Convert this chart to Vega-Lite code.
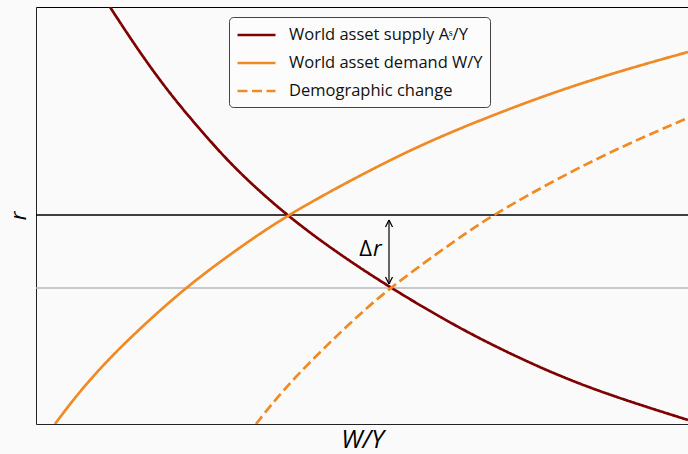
{
  "$schema": "https://vega.github.io/schema/vega-lite/v6.json",
  "width": 652,
  "height": 417,
  "autosize": {"type": "none"},
  "padding": {"left": 36, "top": 7, "right": 0, "bottom": 30},
  "background": "#fafafa",
  "config": {"view": {"stroke": null}, "font": "Open Sans"},
  "datasets": {
    "curves": [
      {"series": "World asset supply Aˢ/Y", "x": 74, "y": 417},
      {"series": "World asset supply Aˢ/Y", "x": 100, "y": 377},
      {"series": "World asset supply Aˢ/Y", "x": 133, "y": 331},
      {"series": "World asset supply Aˢ/Y", "x": 167, "y": 291},
      {"series": "World asset supply Aˢ/Y", "x": 200, "y": 254},
      {"series": "World asset supply Aˢ/Y", "x": 250, "y": 209},
      {"series": "World asset supply Aˢ/Y", "x": 300, "y": 172},
      {"series": "World asset supply Aˢ/Y", "x": 353, "y": 137},
      {"series": "World asset supply Aˢ/Y", "x": 424, "y": 95},
      {"series": "World asset supply Aˢ/Y", "x": 491, "y": 62},
      {"series": "World asset supply Aˢ/Y", "x": 557, "y": 34},
      {"series": "World asset supply Aˢ/Y", "x": 652, "y": 4},
      {"series": "World asset demand W/Y", "x": 19, "y": 0},
      {"series": "World asset demand W/Y", "x": 40, "y": 28},
      {"series": "World asset demand W/Y", "x": 67, "y": 59},
      {"series": "World asset demand W/Y", "x": 100, "y": 92},
      {"series": "World asset demand W/Y", "x": 150, "y": 137},
      {"series": "World asset demand W/Y", "x": 200, "y": 174},
      {"series": "World asset demand W/Y", "x": 251, "y": 209},
      {"series": "World asset demand W/Y", "x": 330, "y": 252},
      {"series": "World asset demand W/Y", "x": 391, "y": 282},
      {"series": "World asset demand W/Y", "x": 457, "y": 309},
      {"series": "World asset demand W/Y", "x": 524, "y": 334},
      {"series": "World asset demand W/Y", "x": 591, "y": 355},
      {"series": "World asset demand W/Y", "x": 652, "y": 372},
      {"series": "Demographic change", "x": 220, "y": 0},
      {"series": "Demographic change", "x": 247, "y": 34},
      {"series": "Demographic change", "x": 281, "y": 69},
      {"series": "Demographic change", "x": 314, "y": 101},
      {"series": "Demographic change", "x": 353, "y": 136},
      {"series": "Demographic change", "x": 424, "y": 187},
      {"series": "Demographic change", "x": 457, "y": 209},
      {"series": "Demographic change", "x": 524, "y": 247},
      {"series": "Demographic change", "x": 591, "y": 280},
      {"series": "Demographic change", "x": 652, "y": 306}
    ],
    "levels": [
      {"level": "before", "y": 209},
      {"level": "after", "y": 136}
    ],
    "arrow": [
      {"x": 353, "y": 204, "x2": 353, "y2": 140},
      {"x": 353, "y": 204, "x2": 349.5, "y2": 197},
      {"x": 353, "y": 204, "x2": 356.5, "y2": 197},
      {"x": 353, "y": 140, "x2": 349.5, "y2": 147},
      {"x": 353, "y": 140, "x2": 356.5, "y2": 147}
    ],
    "labels": [
      {"t": "Δ", "style": "normal", "x": 329.5, "y": 168},
      {"t": "r", "style": "italic", "x": 337, "y": 168}
    ]
  },
  "layer": [
    {
      "data": {"name": "levels"},
      "mark": {"type": "rule", "strokeWidth": 1.3},
      "encoding": {
        "y": {"field": "y", "type": "quantitative", "scale": {"domain": [0, 417], "nice": false, "zero": false}, "axis": null},
        "color": {"field": "level", "type": "nominal", "scale": {"domain": ["before", "after"], "range": ["#000000", "#b8b8b8"]}, "legend": null}
      }
    },
    {
      "data": {"name": "curves"},
      "mark": {"type": "line", "strokeWidth": 2.7, "interpolate": "basis", "clip": true},
      "encoding": {
        "x": {"field": "x", "type": "quantitative", "scale": {"domain": [0, 652], "nice": false, "zero": false},
              "axis": {"orient": "bottom", "title": "W/Y", "titleFontSize": 25, "titleFontStyle": "italic", "titleFontWeight": "normal", "titleColor": "#000", "titlePadding": 3, "labels": false, "ticks": false, "grid": false, "domain": true, "domainColor": "#222", "domainWidth": 1}},
        "y": {"field": "y", "type": "quantitative", "scale": {"domain": [0, 417], "nice": false, "zero": false},
              "axis": {"orient": "left", "title": "r", "titleFontSize": 22, "titleFontStyle": "italic", "titleFontWeight": "normal", "titleColor": "#000", "titlePadding": 6, "labels": false, "ticks": false, "grid": false, "domain": true, "domainColor": "#222", "domainWidth": 1}},
        "color": {"field": "series", "type": "nominal",
                  "scale": {"domain": ["World asset supply Aˢ/Y", "World asset demand W/Y", "Demographic change"], "range": ["#7f0000", "#f08a24", "#f08a24"]},
                  "legend": {"orient": "none", "legendX": 193, "legendY": 10, "title": null, "symbolType": "M-1,0H3", "symbolSize": 361, "symbolStrokeWidth": 2.7, "labelFontSize": 16.5, "labelColor": "#111", "fillColor": "#fcfcfc", "strokeColor": "#444", "cornerRadius": 4, "padding": 7, "rowPadding": 8, "labelOffset": 31, "labelLimit": 400}},
        "strokeDash": {"field": "series", "type": "nominal",
                  "scale": {"domain": ["World asset supply Aˢ/Y", "World asset demand W/Y", "Demographic change"], "range": [[1, 0], [1, 0], [10, 4.5]]},
                  "legend": {"orient": "none", "legendX": 193, "legendY": 10, "title": null, "symbolType": "M-1,0H3", "symbolSize": 361, "symbolStrokeWidth": 2.7, "labelFontSize": 16.5, "labelColor": "#111", "fillColor": "#fcfcfc", "strokeColor": "#444", "cornerRadius": 4, "padding": 7, "rowPadding": 8, "labelOffset": 31, "labelLimit": 400}}
      }
    },
    {
      "data": {"name": "arrow"},
      "mark": {"type": "rule", "color": "#000", "strokeWidth": 1.2},
      "encoding": {
        "x": {"field": "x", "type": "quantitative", "scale": {"domain": [0, 652], "nice": false, "zero": false},
              "axis": {"orient": "top", "title": null, "labels": false, "ticks": false, "grid": false, "domain": true, "domainColor": "#000", "domainWidth": 1}},
        "y": {"field": "y", "type": "quantitative", "scale": {"domain": [0, 417], "nice": false, "zero": false}, "axis": null},
        "x2": {"field": "x2"},
        "y2": {"field": "y2"}
      }
    },
    {
      "data": {"name": "labels"},
      "transform": [{"filter": "datum.style == 'normal'"}],
      "mark": {"type": "text", "fontSize": 22, "align": "center", "baseline": "alphabetic", "color": "#000"},
      "encoding": {
        "x": {"field": "x", "type": "quantitative", "scale": {"domain": [0, 652], "nice": false, "zero": false}, "axis": null},
        "y": {"field": "y", "type": "quantitative", "scale": {"domain": [0, 417], "nice": false, "zero": false}, "axis": null},
        "text": {"field": "t"}
      }
    },
    {
      "data": {"name": "labels"},
      "transform": [{"filter": "datum.style == 'italic'"}],
      "mark": {"type": "text", "fontSize": 22, "fontStyle": "italic", "align": "left", "baseline": "alphabetic", "color": "#000"},
      "encoding": {
        "x": {"field": "x", "type": "quantitative", "scale": {"domain": [0, 652], "nice": false, "zero": false}, "axis": null},
        "y": {"field": "y", "type": "quantitative", "scale": {"domain": [0, 417], "nice": false, "zero": false}, "axis": null},
        "text": {"field": "t"}
      }
    }
  ],
  "resolve": {"scale": {"color": "independent", "strokeDash": "independent"}, "axis": {"x": "independent", "y": "independent"}}
}
